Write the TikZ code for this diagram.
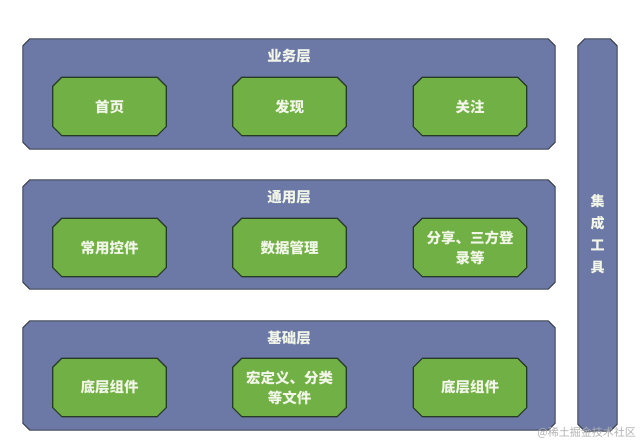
\documentclass[tikz,border=0pt]{standalone}
\usepackage{fontspec}
\newfontfamily\cjk{Noto Sans CJK SC}
\usetikzlibrary{calc}
\definecolor{layerfill}{HTML}{6C79A6}
\definecolor{layerdraw}{HTML}{3C4150}
\definecolor{boxfill}{HTML}{71B044}
\definecolor{boxdraw}{HTML}{263A26}
\definecolor{txt}{HTML}{F2F6E8}
\newcommand{\chamf}[3]{%
  \path[#3] ($(#1.south west)+(#2,0)$) -- ($(#1.south east)+(-#2,0)$) -- ($(#1.south east)+(0,#2)$)
    -- ($(#1.north east)+(0,-#2)$) -- ($(#1.north east)+(-#2,0)$) -- ($(#1.north west)+(#2,0)$)
    -- ($(#1.north west)+(0,-#2)$) -- ($(#1.south west)+(0,#2)$) -- cycle;}
\tikzset{
  x=1pt,y=1pt,
  layer/.style={rectangle, inner sep=0pt},
  layerpaint/.style={fill=layerfill, draw=layerdraw, line width=1pt},
  gbox/.style={rectangle, inner sep=0pt,
    minimum width=113pt, minimum height=58pt, text=txt, font=\cjk\bfseries\fontsize{14.5}{20}\selectfont,
    align=center},
  gpaint/.style={fill=boxfill, draw=boxdraw, line width=1.2pt},
  ttl/.style={text=txt, font=\cjk\bfseries\fontsize{14.5}{18}\selectfont, inner sep=0pt},
}
\begin{document}
\begin{tikzpicture}
\useasboundingbox[fill=white] (0,0) rectangle (640,446);
\node[layer, minimum width=532pt, minimum height=110pt] (L1) at (289,352) {};
\node[layer, minimum width=532pt, minimum height=109pt] (L2) at (289,211.5) {};
\node[layer, minimum width=532pt, minimum height=109pt] (L3) at (289,70.5) {};
\node[layer, minimum width=39pt, minimum height=392pt] (bar) at (597.5,211) {};
\chamf{L1}{7}{layerpaint}
\chamf{L2}{7}{layerpaint}
\chamf{L3}{7}{layerpaint}
\chamf{bar}{7}{layerpaint}
\node[ttl] (t1) at (289,390) {业务层};
\node[ttl] (t2) at (289,249) {通用层};
\node[ttl] (t3) at (289,108) {基础层};
\node[ttl, align=center, font=\cjk\bfseries\fontsize{14}{22}\selectfont] (tb) at (597.5,212) {集\\成\\工\\具};
\begin{scope}[every node/.style={gbox}]
\node (a1) at (109.5,339.5) {};
\node (a2) at (289.5,339.5) {};
\node (a3) at (470,339.5) {};
\node (b1) at (109.5,198.5) {};
\node (b2) at (289.5,198.5) {};
\node (b3) at (470,198.5) {};
\node (c1) at (109.5,58.5) {};
\node (c2) at (289.5,58.5) {};
\node (c3) at (470,58.5) {};
\end{scope}
\foreach \n in {a1,a2,a3,b1,b2,b3,c1,c2,c3} {\chamf{\n}{9}{gpaint}}
\node[gbox] at (a1) {首页};
\node[gbox] at (a2) {发现};
\node[gbox] at (a3) {关注};
\node[gbox] at (b1) {常用控件};
\node[gbox] at (b2) {数据管理};
\node[gbox] at (b3) {分享、三方登\\录等};
\node[gbox] at (c1) {底层组件};
\node[gbox] at (c2) {宏定义、分类\\等文件};
\node[gbox] at (c3) {底层组件};
\node[text=black!30, font=\cjk\fontsize{11}{13}\selectfont, anchor=east, inner sep=0pt] (wm) at (636,13) {@稀土掘金技术社区};
\end{tikzpicture}
\end{document}
